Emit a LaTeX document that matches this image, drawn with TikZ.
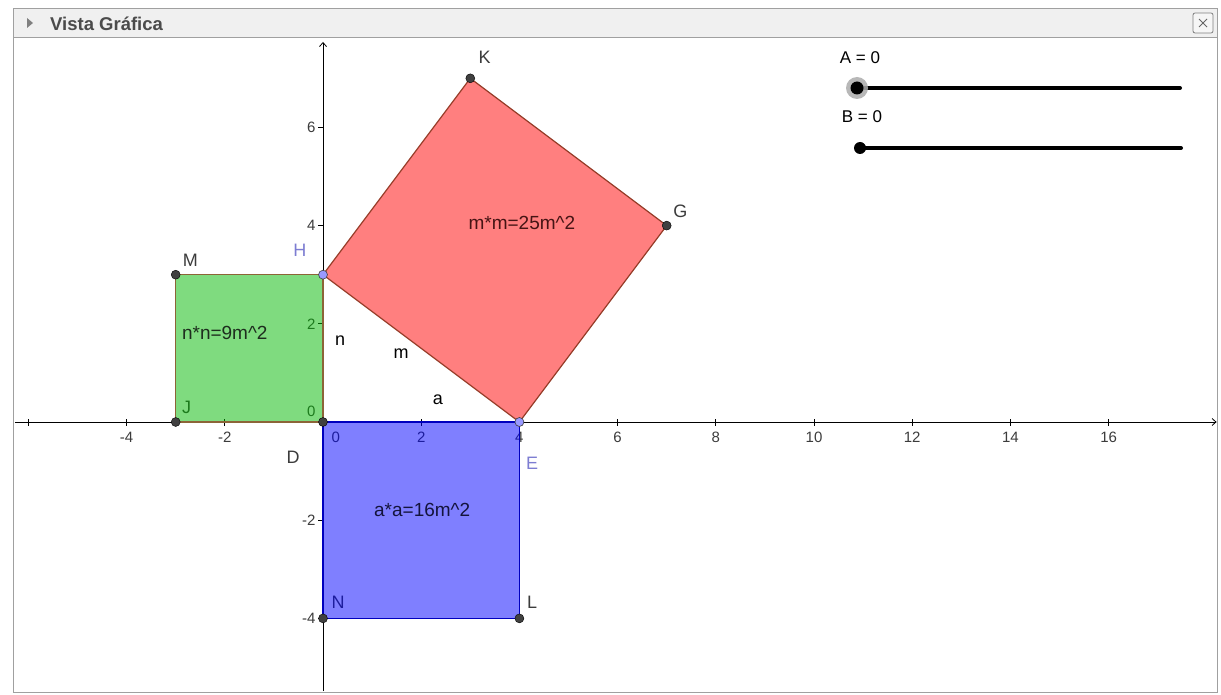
\documentclass[tikz,border=0pt]{standalone}
\usepackage{fontspec}
\setmainfont{Liberation Sans}
\usetikzlibrary{arrows.meta}
\definecolor{hdr}{RGB}{240,240,240}
\definecolor{framegray}{RGB}{160,160,160}
\definecolor{titlegray}{RGB}{75,75,75}
\definecolor{ggreen}{RGB}{0,185,0}
\definecolor{gred}{RGB}{255,0,0}
\definecolor{gblue}{RGB}{0,0,255}
\definecolor{greenedge}{RGB}{140,100,55}
\definecolor{rededge}{RGB}{150,60,40}
\definecolor{blueedge}{RGB}{0,0,190}
\definecolor{ptdark}{RGB}{64,64,64}
\definecolor{ptfree}{RGB}{153,153,255}
\definecolor{labfree}{RGB}{125,125,210}
\definecolor{labdark}{RGB}{60,60,60}
\definecolor{txtred}{RGB}{70,20,20}
\definecolor{txtgreen}{RGB}{30,45,30}
\definecolor{txtblue}{RGB}{20,20,60}
\tikzset{
  axisline/.style={line width=0.8pt, black, -{Straight Barb[length=4pt,width=7pt]}},
  tickmark/.style={line width=0.7pt, black},
  numlab/.style={font=\fontsize{15}{17}\selectfont, text=labdark, inner sep=0pt},
  ptlab/.style={font=\fontsize{18}{20}\selectfont, text=labdark, inner sep=0pt},
  freelab/.style={font=\fontsize{18}{20}\selectfont, text=labfree, inner sep=0pt},
  seglab/.style={font=\fontsize{18}{20}\selectfont, text=black, inner sep=0pt},
  arealab/.style={font=\fontsize{19}{21}\selectfont, inner sep=0pt},
  slidelab/.style={font=\fontsize{17}{19}\selectfont, text=black, inner sep=0pt},
  darkpt/.style={circle, fill=ptdark, draw=black, line width=0.4pt, inner sep=0pt, minimum size=9pt},
  freept/.style={circle, fill=ptfree, draw=ptdark, line width=0.6pt, inner sep=0pt, minimum size=9pt},
  sliderline/.style={line width=4pt, line cap=round, black},
}
\begin{document}
\begin{tikzpicture}[x=1pt,y=-1pt]
\useasboundingbox (0,0) rectangle (1221,695);
\fill[white] (0,0) rectangle (1221,695);
% window frame
\fill[hdr] (13,9) rectangle (1217,38);
\draw[framegray, line width=1pt] (13,9) rectangle (1217,692);
\draw[framegray, line width=1pt] (13,38) -- (1217,38);
\fill[gray] (27,18) -- (33,23) -- (27,28) -- cycle;
\node[anchor=west, inner sep=0pt, text=titlegray, font=\bfseries\fontsize{18.5}{20}\selectfont] (title) at (50,24) {Vista Gráfica};
\draw[gray, rounded corners=2pt, line width=0.8pt, fill=hdr!60!white] (1193,13) rectangle (1213,33);
\draw[gray!80!black, line width=0.9pt] (1199,19) -- (1207,27) (1199,27) -- (1207,19);

\begin{scope}[shift={(323,422)}, x=49.1pt, y=49.1pt]
  % axes
  \coordinate (xl) at (-6.27,0);
  \coordinate (xr) at (18.2,0);
  \coordinate (yb) at (0,-5.48);
  \coordinate (yt) at (0,7.74);
  \draw[axisline] (xl) -- (xr);
  \draw[axisline] (yb) -- (yt);
  \foreach \i in {-6,-4,...,16} \draw[tickmark] (\i,0.06) -- (\i,-0.08);
  \foreach \j in {-4,-2,2,4,6} \draw[tickmark] (0,\j) -- (-0.11,\j);
  \foreach \i/\n in {-4/xa,-2/xb,2/xd,4/xe,6/xf,8/xg,10/xh,12/xi,14/xj,16/xk}
    \node[numlab, anchor=north] (\n) at (\i,-0.2) {\i};
  \node[numlab, anchor=north] (xc) at (0.26,-0.2) {0};
  \foreach \j/\n in {-4/ya,-2/yb2,2/yd,4/ye,6/yf}
    \node[numlab, anchor=east] (\n) at (-0.15,\j) {\j};
  \node[numlab, anchor=east] (yc) at (-0.15,0.22) {0};

  % points
  \coordinate (O) at (0,0);
  \coordinate (Jp) at (-3,0);
  \coordinate (Mp) at (-3,3);
  \coordinate (Hp) at (0,3);
  \coordinate (Ep) at (4,0);
  \coordinate (Gp) at (7,4);
  \coordinate (Kp) at (3,7);
  \coordinate (Np) at (0,-4);
  \coordinate (Lp) at (4,-4);

  % labels beneath the fills
  \node[ptlab] (labJ) at (-2.78,0.3) {J};
  \node[ptlab] (labN) at (0.31,-3.67) {N};

  % fills
  \fill[ggreen, fill opacity=0.5] (Jp) -- (O) -- (Hp) -- (Mp) -- cycle;
  \fill[gred, fill opacity=0.5] (Hp) -- (Ep) -- (Gp) -- (Kp) -- cycle;
  \fill[gblue, fill opacity=0.5] (O) -- (Ep) -- (Lp) -- (Np) -- cycle;

  % edges
  \draw[greenedge, line width=1.2pt] (Jp) -- (O) -- (Hp) -- (Mp) -- cycle;
  \draw[rededge, line width=1.2pt] (Hp) -- (Ep) -- (Gp) -- (Kp) -- cycle;
  \draw[blueedge, line width=1.2pt] (O) -- (Ep) -- (Lp) -- (Np) -- cycle;

  % area texts
  \node[arealab, text=txtred] (areaM) at (4.05,4.06) {m*m=25m\^{}2};
  \node[arealab, text=txtgreen] (areaN) at (-2.0,1.81) {n*n=9m\^{}2};
  \node[arealab, text=txtblue] (areaA) at (2.02,-1.79) {a*a=16m\^{}2};

  % point markers
  \node[darkpt] (ptJ) at (Jp) {};
  \node[darkpt] (ptM) at (Mp) {};
  \node[darkpt] (ptD) at (O) {};
  \node[darkpt] (ptN) at (Np) {};
  \node[darkpt] (ptL) at (Lp) {};
  \node[darkpt] (ptK) at (Kp) {};
  \node[darkpt] (ptG) at (Gp) {};
  \node[freept] (ptH) at (Hp) {};
  \node[freept] (ptE) at (Ep) {};

  % labels on top
  \node[ptlab] (labK) at (3.29,7.42) {K};
  \node[ptlab] (labG) at (7.28,4.3) {G};
  \node[ptlab] (labM) at (-2.7,3.3) {M};
  \node[freelab] (labH) at (-0.47,3.49) {H};
  \node[ptlab] (labD) at (-0.61,-0.72) {D};
  \node[freelab] (labE) at (4.26,-0.84) {E};
  \node[ptlab] (labL) at (4.26,-3.67) {L};
  \node[seglab] (labn) at (0.35,1.66) {n};
  \node[seglab] (labm) at (1.59,1.39) {m};
  \node[seglab] (laba) at (2.34,0.46) {a};
\end{scope}

% sliders
\coordinate (a0) at (857,88);
\coordinate (a1) at (1180,88);
\coordinate (b0) at (860,148);
\coordinate (b1) at (1181,148);
\node[slidelab] (labA) at (860,58) {A = 0};
\node[slidelab] (labB) at (862,117) {B = 0};
\draw[sliderline] (a0) -- (a1);
\draw[sliderline] (b0) -- (b1);
\fill[gray!65, opacity=0.85] (a0) circle (11);
\node[circle, fill=black, inner sep=0pt, minimum size=13pt] (sA) at (a0) {};
\node[circle, fill=black, inner sep=0pt, minimum size=12pt] (sB) at (b0) {};
\end{tikzpicture}
\end{document}
